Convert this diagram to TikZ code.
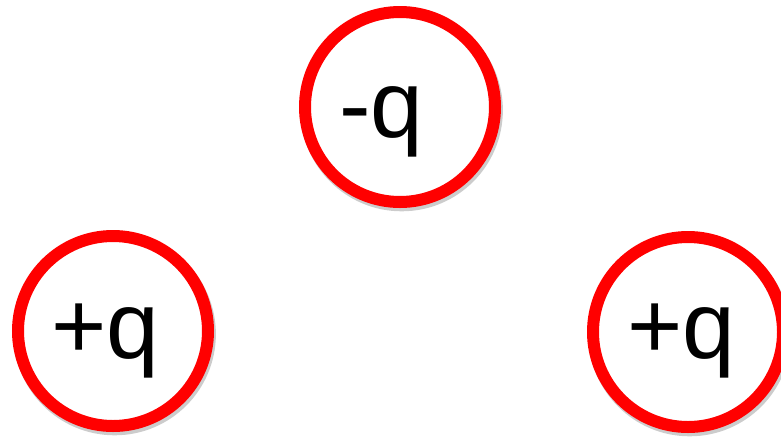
\documentclass[tikz,border=0pt]{standalone}
\usepackage{fontspec}
\setmainfont{Liberation Sans}
\usetikzlibrary{shadows}
\definecolor{ringred}{RGB}{255,0,0}

\begin{document}
\begin{tikzpicture}[x=0.75pt, y=-0.75pt,
  charge/.style={circle, draw=ringred, line width=9pt, fill=white,
    minimum size=142.5pt, inner sep=0pt,
    drop shadow={shadow scale=1.065, shadow xshift=1.2pt, shadow yshift=-2.2pt, fill=black!20, opacity=1}},
  sign/.style={anchor=base west, inner sep=0pt, font=\fontsize{71}{84}\selectfont},
]
  \useasboundingbox (0,0) rectangle (781,436);
  \node[charge] (top) at (400,107) {};
  \node[charge] (left) at (113,331) {};
  \node[charge] (right) at (688,332) {};
  \node[sign] (qtop) at ([shift={(-61,30)}]top.center) {-q};
  \node[sign] (qleft) at ([shift={(-62,27)}]left.center) {+q};
  \node[sign] (qright) at ([shift={(-61,26)}]right.center) {+q};
\end{tikzpicture}
\end{document}
